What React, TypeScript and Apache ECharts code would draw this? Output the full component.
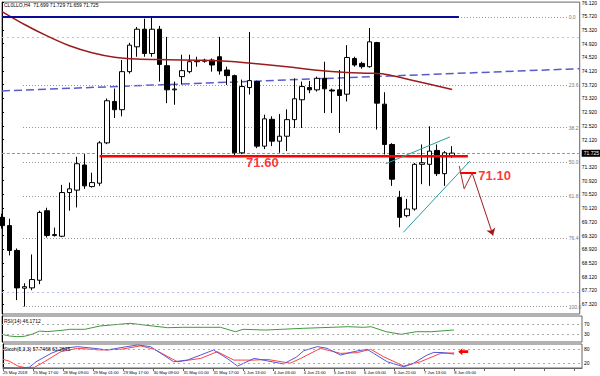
import { useEffect, useRef } from 'react';
import * as echarts from 'echarts';

const FONT = 'Liberation Sans';

const chartTitle = 'CL0LLO,H4  71.699 71.729 71.659 71.725';
const rsiTitle = 'RSI(14) 46.1712';
const stochTitle = 'Stoch(5,3,3) 57.7468 63.2645';

const timeLabels = [
  '25 May 2018', '25 May 17:00', '28 May 09:00', '29 May 01:00', '29 May 17:00', '30 May 09:00',
  '31 May 01:00', '31 May 17:00', '1 Jun 13:00', '4 Jun 05:00', '4 Jun 21:00', '5 Jun 13:00',
  '6 Jun 05:00', '6 Jun 21:00', '7 Jun 13:00', '8 Jun 05:00',
];
const slotCount = 78;
const barsPerLabel = 4;

const opens = [
  69.850, 69.609, 68.885, 67.783, 67.792, 68.015, 70.044, 69.319, 69.299, 70.574,
  70.644, 71.377, 70.748, 70.847, 72.024, 73.232, 72.992, 74.102, 74.827, 75.340,
  74.632, 75.340, 74.276, 73.572, 73.957, 74.102, 74.392, 74.406, 74.441, 74.537,
  74.151, 73.986, 71.734, 73.638, 73.812, 71.928, 72.711, 72.073, 72.218, 72.702,
  73.282, 73.638, 73.572, 73.908, 73.566, 73.572, 73.444, 74.487, 74.343, 74.247,
  74.951, 73.154, 71.977, 70.429, 69.899, 70.093, 71.398, 71.398, 71.803, 71.125,
  71.638,
];
const highs = [
  69.957, 69.812, 68.942, 67.928, 68.769, 70.044, 70.131, 69.551, 70.798, 70.864,
  71.618, 71.696, 71.154, 72.073, 73.319, 73.609, 74.441, 74.943, 75.406, 75.647,
  75.696, 75.435, 75.116, 73.812, 74.595, 74.595, 74.537, 74.479, 74.487, 75.116,
  74.247, 74.015, 73.870, 75.261, 73.841, 72.847, 72.798, 72.864, 73.001, 73.908,
  73.812, 73.832, 73.957, 74.392, 73.609, 74.151, 74.876, 74.537, 74.392, 75.377,
  74.972, 73.502, 72.015, 70.624, 70.392, 71.435, 71.977, 72.508, 71.977, 71.783,
  71.928,
];
const lows = [
  69.522, 68.740, 67.435, 67.247, 67.725, 67.899, 69.261, 69.290, 69.270, 70.044,
  70.140, 70.682, 70.719, 70.769, 71.986, 72.748, 72.798, 74.044, 74.537, 74.537,
  74.537, 73.812, 73.183, 73.137, 73.725, 74.053, 74.247, 74.363, 74.102, 74.015,
  73.716, 71.638, 71.696, 73.435, 71.870, 71.841, 71.928, 71.734, 71.783, 72.458,
  72.458, 73.473, 73.522, 72.893, 72.893, 72.314, 73.232, 74.247, 74.189, 74.218,
  72.412, 71.687, 70.769, 69.560, 69.850, 70.044, 70.818, 70.769, 71.058, 70.769,
  71.589,
];
const closes = [
  69.609, 68.885, 67.792, 67.827, 68.035, 69.995, 69.319, 69.348, 70.574, 70.682,
  71.415, 70.769, 70.864, 72.024, 73.253, 72.992, 74.102, 74.876, 75.340, 74.632,
  75.340, 74.314, 73.572, 73.595, 74.131, 74.392, 74.421, 74.435, 74.296, 74.122,
  73.986, 71.734, 73.667, 73.841, 71.928, 72.725, 72.073, 72.218, 72.702, 73.311,
  73.667, 73.572, 73.908, 73.601, 73.537, 73.406, 74.516, 74.296, 74.247, 74.972,
  73.183, 71.977, 70.963, 69.850, 70.093, 71.398, 71.444, 71.783, 71.125, 71.734,
  71.725,
];
const lastPrice = 71.725;

const priceTicks = [
  76.12, 75.72, 75.32, 74.92, 74.52, 74.12, 73.72, 73.32, 72.92, 72.52, 72.12,
  71.32, 70.92, 70.52, 70.12, 69.72, 69.32, 68.92, 68.52, 68.12, 67.72, 67.32,
];
const priceMin = 67.03;
const priceMax = 76.131;

// moving average (dark red) read at bar positions
const maBars = [0, 3, 6, 9, 12, 15, 18, 22, 26, 30, 34, 38, 42, 46, 49, 51, 53, 56, 58, 60];
const maValues = [75.856, 75.479, 75.145, 74.856, 74.653, 74.522, 74.470, 74.450, 74.435, 74.406,
  74.334, 74.247, 74.145, 74.079, 74.056, 74.029, 73.937, 73.783, 73.682, 73.580];

// dashed blue trend line
const trendBars = [0, 77];
const trendValues = [73.54, 74.189];

// top horizontal line (high)
const topLineBars = [0, 60.9];
const topLineValue = 75.696;

// 71.60 support line
const supportBars = [13, 62.1];
const supportValue = 71.63;
const supportText = '71.60';
const supportTextBar = 34.7;
const supportTextValue = 71.45;

// fibonacci retracement
const fibLabels = ['0.0', '23.6', '38.2', '50.0', '61.8', '76.4', '100.0'];
const fibPrices = [75.696, 73.702, 72.468, 71.472, 70.475, 69.241, 67.247];
const fibBars = [2.8, 75.4];

// faint blue dotted levels
const pivotPrices = [75.117, 67.667];
const pivotBars = [0, 77];

// channel lines (teal)
const channelUpperBars = [51.16, 59.7];
const channelUpperValues = [71.415, 72.198];
const channelLowerBars = [53.5, 62.36];
const channelLowerValues = [69.415, 71.493];

// projection drawing
const targetBars = [61.03, 63.2];
const targetValue = 71.145;
const targetText = '71.10';
const targetTextBar = 65.66;
const targetTextValue = 71.073;
const zigzagBars = [60.94, 61.6, 62.67];
const zigzagValues = [71.348, 70.682, 71.145];
const arrowBars = [62.67, 65.45];
const arrowValues = [71.145, 69.319];

// RSI
const rsiBars = [0, 1, 2, 3, 4, 5, 6, 8, 9, 11, 13, 17, 20, 22, 24, 29, 31, 32, 35, 40, 46, 48, 49, 51, 53, 55, 57, 60];
const rsiValues = [29.6, 23, 20.4, 22, 30, 42, 40, 45, 48.8, 48.8, 61.5, 71.9, 61.5, 55, 56.5, 56.5, 39.6, 48.8, 46, 52.7, 58.8, 56.5, 58.8, 39.6, 29.6, 39.6, 39.6, 46.2];
const rsiLevels = [70, 30];

// Stochastic
const stochMainBars = [0, 2, 3.5, 4.4, 6.4, 8.1, 9.9, 12.1, 13.9, 15.7, 17.9, 19.6, 21, 22.7, 24.5, 26.3, 28, 29.8, 31.2, 33.4, 35.1, 37.3, 39, 40, 41.8, 43.1, 44.9, 46.6, 48.4, 49.3, 51.1, 53.3, 54.6, 56.4, 57.3, 58.6, 60];
const stochMainValues = [2, 0, 3, 26, 61, 82, 89, 82, 75, 85, 96, 89, 61, 26, 33, 54, 75, 40, 8, 40, 30, 17, 45, 72, 89, 82, 54, 68, 78, 61, 26, 5, 20, 54, 65, 64, 58];
const stochSignalBars = [0, 0.8, 2, 3, 4.2, 5.5, 7.7, 9.9, 13, 15.7, 18.3, 20.1, 23.2, 26.3, 28.5, 30.7, 33.4, 35.1, 38.2, 39.6, 42.2, 44.9, 47.1, 48.9, 50.6, 53.3, 55.5, 58.2, 60];
const stochSignalValues = [36, 29, 8, 1, 3, 26, 68, 82, 75, 78, 92, 78, 26, 40, 68, 33, 33, 36, 20, 40, 82, 61, 64, 78, 47, 8, 26, 61, 63];
const stochLevels = [80, 20];
const stochArrowBar = 61.2;
const stochArrowValue = 68;

const pairs = (bars: number[], values: number[]) => bars.map((b, k) => [b, values[k]]);

function buildOption() {
  const categories = Array.from({ length: slotCount }, (_, i) => String(i));
  const candles = opens.map((o, i) => [o, closes[i], lows[i], highs[i]]);
  const small = { fontSize: 5, fontFamily: FONT, color: '#000' };
  const gridBase = { left: 2, right: 18, show: true, borderColor: '#666', borderWidth: 1, backgroundColor: '#fff' };
  const hiddenValueX = (gridIndex: number) => ({
    type: 'value', gridIndex, min: 0, max: slotCount - 1, show: false,
  });
  const lineSeries = (bars: number[], values: number[], lineStyle: any, extra: any = {}) => ({
    type: 'line', xAxisIndex: 1, yAxisIndex: 0, data: pairs(bars, values),
    symbol: 'none', showSymbol: false, silent: true, animation: false, lineStyle, z: 4, ...extra,
  });

  return {
    animation: false,
    backgroundColor: '#fff',
    title: [
      { text: chartTitle, left: 4, top: 2, padding: 0, textStyle: { ...small, fontWeight: 'normal' } },
      { text: rsiTitle, left: 4, top: 318, padding: 0, textStyle: { ...small, fontWeight: 'normal' } },
      { text: stochTitle, left: 4, top: 346, padding: 0, textStyle: { ...small, fontWeight: 'normal' } },
    ],
    grid: [
      { ...gridBase, top: 0, height: 314 },
      { ...gridBase, top: 316, height: 26 },
      { ...gridBase, top: 344, height: 24 },
    ],
    xAxis: [
      { type: 'category', gridIndex: 0, data: categories, boundaryGap: false, show: false },
      hiddenValueX(0),
      hiddenValueX(1),
      {
        type: 'category', gridIndex: 2, data: categories, boundaryGap: false,
        axisLine: { show: true, lineStyle: { color: '#666' } },
        axisTick: { show: true, interval: barsPerLabel - 1, length: 3, lineStyle: { color: '#666' } },
        axisLabel: {
          interval: barsPerLabel - 1, align: 'left', margin: 2, ...small, fontSize: 4.2,
          formatter: (_v: string, idx: number) => timeLabels[idx / barsPerLabel] ?? '',
        },
        splitLine: { show: false },
      },
      hiddenValueX(2),
    ],
    yAxis: [
      {
        type: 'value', gridIndex: 0, position: 'right', min: priceMin, max: priceMax,
        splitLine: { show: false },
        axisLine: { show: true, lineStyle: { color: '#000' } },
        axisTick: { show: true, length: 2, customValues: priceTicks, lineStyle: { color: '#000' } },
        axisLabel: { customValues: priceTicks, margin: 2, ...small, formatter: (v: number) => v.toFixed(3) },
      },
      {
        type: 'value', gridIndex: 1, position: 'right', min: 0, max: 100,
        splitLine: { show: false },
        axisLine: { show: true, lineStyle: { color: '#000' } },
        axisTick: { show: true, length: 2, customValues: rsiLevels, lineStyle: { color: '#000' } },
        axisLabel: { customValues: rsiLevels, margin: 2, ...small },
      },
      {
        type: 'value', gridIndex: 2, position: 'right', min: 0, max: 100,
        splitLine: { show: false },
        axisLine: { show: true, lineStyle: { color: '#000' } },
        axisTick: { show: true, length: 2, customValues: stochLevels, lineStyle: { color: '#000' } },
        axisLabel: { customValues: stochLevels, margin: 2, ...small },
      },
    ],
    series: [
      lineSeries(trendBars, trendValues, { color: '#5a5acd', width: 1.5, type: [8, 4] }, {
        z: 3,
        markLine: {
          silent: true, symbol: ['none', 'none'], animation: false,
          label: { show: true, position: 'end', formatter: '{b}', fontSize: 5, fontFamily: FONT, color: '#777', distance: 1 },
          lineStyle: { color: '#999', type: [1, 2], width: 1 },
          data: [
            ...fibPrices.map((p, k) => [
              { coord: [fibBars[0], p], name: fibLabels[k] },
              { coord: [fibBars[1], p] },
            ]),
            ...pivotPrices.map((p) => [
              { coord: [pivotBars[0], p], name: '', lineStyle: { color: '#b8c0f0', type: [2, 3], width: 1 }, label: { show: false } },
              { coord: [pivotBars[1], p] },
            ]),
          ],
        },
      }),
      {
        type: 'candlestick', xAxisIndex: 0, yAxisIndex: 0, data: candles, barWidth: 5, z: 5,
        itemStyle: { color: '#fff', color0: '#000', borderColor: '#000', borderColor0: '#000', borderWidth: 1 },
        markLine: {
          silent: true, symbol: ['none', 'none'], animation: false,
          lineStyle: { color: '#999', type: [3, 2], width: 1 },
          label: {
            show: true, position: 'end', distance: 2, formatter: lastPrice.toFixed(3),
            backgroundColor: '#000', color: '#fff', fontSize: 5, fontFamily: FONT, padding: [1, 2, 1, 2],
          },
          data: [{ yAxis: lastPrice }],
        },
      },
      lineSeries(maBars, maValues, { color: '#9b1c1c', width: 1.5 }, { smooth: 0.3, z: 6 }),
      lineSeries(topLineBars, [topLineValue, topLineValue], { color: '#0a0a9a', width: 2 }, { z: 6 }),
      lineSeries(supportBars, [supportValue, supportValue], { color: '#ff0000', width: 2.5 }, { z: 7 }),
      lineSeries(channelUpperBars, channelUpperValues, { color: '#2a9d9d', width: 1 }, { z: 7 }),
      lineSeries(channelLowerBars, channelLowerValues, { color: '#2a9d9d', width: 1 }, { z: 7 }),
      lineSeries(targetBars, [targetValue, targetValue], { color: '#ff0000', width: 2 }, { z: 7 }),
      lineSeries(zigzagBars, zigzagValues, { color: '#b02a2a', width: 1 }, {
        z: 7,
        markLine: {
          silent: true, symbol: ['none', 'arrow'], symbolSize: 7, animation: false,
          label: { show: false },
          lineStyle: { color: '#a01818', width: 1, type: 'solid' },
          data: [[{ coord: [arrowBars[0], arrowValues[0]] }, { coord: [arrowBars[1], arrowValues[1]] }]],
        },
      }),
      {
        type: 'scatter', xAxisIndex: 1, yAxisIndex: 0, symbolSize: 0, silent: true, z: 8,
        data: [[supportTextBar, supportTextValue, supportText], [targetTextBar, targetTextValue, targetText]],
        label: {
          show: true, position: 'inside', formatter: (p: any) => p.value[2],
          color: '#ff0000', fontSize: 13, fontWeight: 'bold', fontFamily: FONT,
        },
      },
      {
        type: 'line', xAxisIndex: 2, yAxisIndex: 1, data: pairs(rsiBars, rsiValues),
        symbol: 'none', silent: true, lineStyle: { color: '#3c9a3c', width: 1 },
        markLine: {
          silent: true, symbol: ['none', 'none'], label: { show: false },
          lineStyle: { color: '#aaa', type: [2, 3], width: 1 },
          data: rsiLevels.map((v) => ({ yAxis: v })),
        },
      },
      {
        type: 'line', xAxisIndex: 4, yAxisIndex: 2, data: pairs(stochSignalBars, stochSignalValues),
        symbol: 'none', silent: true, lineStyle: { color: '#ff4040', width: 1 },
        markLine: {
          silent: true, symbol: ['none', 'none'], label: { show: false },
          lineStyle: { color: '#aaa', type: [2, 3], width: 1 },
          data: stochLevels.map((v) => ({ yAxis: v })),
        },
        markPoint: {
          silent: true,
          symbol: 'path://M0,5L5,0L5,3L12,3L12,7L5,7L5,10Z',
          symbolSize: [10, 7],
          itemStyle: { color: '#ff0000' },
          label: { show: false },
          data: [{ coord: [stochArrowBar, stochArrowValue] }],
        },
      },
      {
        type: 'line', xAxisIndex: 4, yAxisIndex: 2, data: pairs(stochMainBars, stochMainValues),
        symbol: 'none', silent: true, lineStyle: { color: '#5555d8', width: 1 },
      },
    ],
  };
}

export default function App() {
  const ref = useRef<HTMLDivElement>(null);
  useEffect(() => {
    if (!ref.current) return;
    const chart = echarts.init(ref.current, undefined, { renderer: 'svg' });
    chart.setOption(buildOption() as any);
    return () => chart.dispose();
  }, []);
  return (
    <div
      ref={ref}
      style={{ position: 'fixed', left: 0, top: 0, width: 600, height: 376, background: '#fff' }}
    />
  );
}
